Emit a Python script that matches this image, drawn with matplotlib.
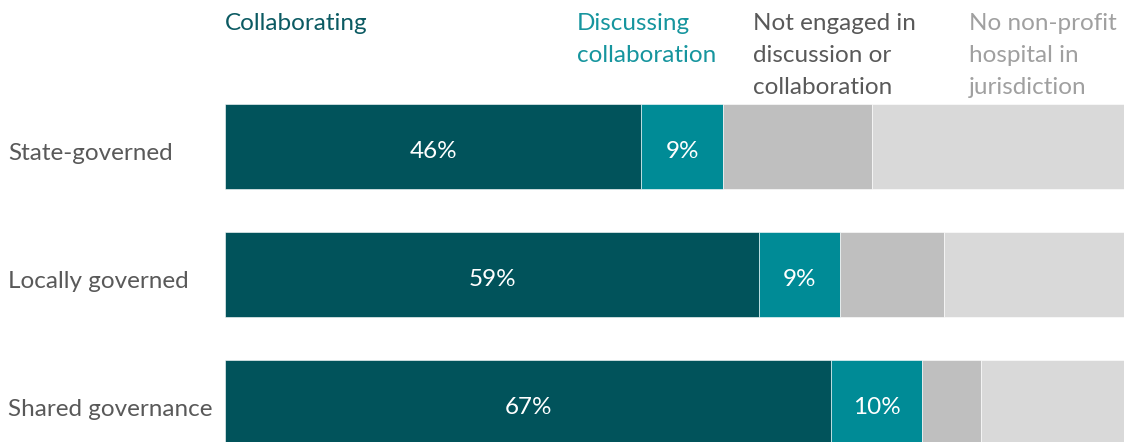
import numpy as np
import matplotlib.pyplot as plt

# DATOS -------------------------------------------------------------------

categorias = ['State-governed', 'Locally governed', 'Shared governance']
collaborating = [46, 59, 67]
discussing = [9, 9, 10]
not_engaged = [16.5, 11.5, 6.5]
no_hospital = [28.5, 20.5, 16.5]

series = [collaborating, discussing, not_engaged, no_hospital]
leyenda = ['Collaborating', 'Discussing\ncollaboration',
           'Not engaged in\ndiscussion or\ncollaboration',
           'No non-profit\nhospital in\njurisdiction']
colores = ['#01535B', '#008B96', '#BFBFBF', '#D9D9D9']
colores_texto = ['#0B5A62', '#16959E', '#595959', '#A0A0A0']
etiquetas = [True, True, False, False]

# GRÁFICO -----------------------------------------------------------------

plt.rcParams['font.family'] = ['Lato', 'DejaVu Sans']
W, H = 1124, 442
fig = plt.figure(figsize=(W / 100, H / 100), dpi=100)
ax = fig.add_axes([225 / W, 0, 1 - 225 / W, (H - 104) / H])

y = np.arange(len(categorias))
alto = 85 / 128
izq = np.zeros(len(categorias))
for vals, col, lab in zip(series, colores, etiquetas):
    vals = np.array(vals, dtype=float)
    ax.barh(y, vals, left=izq, height=alto, color=col,
            edgecolor='white', linewidth=0.4)
    if lab:
        for yi, l, v in zip(y, izq, vals):
            ax.text(l + v / 2, yi + 5 / 128, f'{int(v)}%', ha='center', va='center',
                    color='white', fontsize=17.5)
    izq += vals

xmax = 899 / 905 * 100
ax.set_xlim(0, xmax)
ax.set_ylim(2 + alto / 2 - 0.023, -alto / 2)
ax.axis('off')

for yi, cat in zip(y, categorias):
    ax.text(-217 / 899 * xmax, yi + 7 / 128, cat, ha='left', va='center',
            color='#595959', fontsize=17.5, clip_on=False)

# leyenda superior (posiciones en píxeles de la figura)
x_leyenda = [225, 577, 753, 969]
for xp, txt, c in zip(x_leyenda, leyenda, colores_texto):
    fig.text(xp / W, 1 - 13 / H, txt, ha='left', va='top', color=c,
             fontsize=17.5, linespacing=1.65)

plt.savefig('out.png', dpi=100)
